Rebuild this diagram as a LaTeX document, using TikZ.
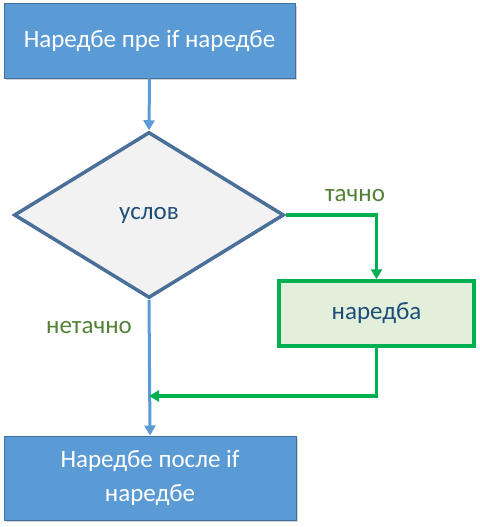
\documentclass[tikz,border=0pt]{standalone}
\usepackage{fontspec}
\setmainfont{Carlito}
\usetikzlibrary{shapes.geometric,arrows.meta,shadows}
\definecolor{bluefill}{HTML}{5B9BD5}
\definecolor{blueedge}{HTML}{41719C}
\definecolor{diafill}{HTML}{F2F2F2}
\definecolor{diaedge}{HTML}{4A6F99}
\definecolor{darktext}{HTML}{1F4E79}
\definecolor{greenline}{HTML}{00B050}
\definecolor{greenfill}{HTML}{E2EFDA}
\definecolor{labelgreen}{HTML}{538135}
\tikzset{
  bluebox/.style={draw=blueedge, fill=bluefill, line width=1pt, text=white,
    font=\fontsize{25}{34}\selectfont, align=center, inner sep=0pt,
    drop shadow={shadow xshift=2pt, shadow yshift=-2pt, opacity=0.35}},
  decision/.style={diamond, draw=diaedge, fill=diafill, line width=3.5pt, text=darktext,
    font=\fontsize{25}{30}\selectfont, inner sep=0pt, aspect=1.63},
  greenbox/.style={draw=greenline, fill=greenfill, line width=3.5pt, text=darktext,
    font=\fontsize{25}{30}\selectfont, inner sep=0pt},
  bluearrow/.style={draw=bluefill, line width=3pt, -{Triangle[length=10pt,width=11pt]}},
  greenarrow/.style={draw=greenline, line width=3.5pt, -{Triangle[length=10pt,width=11pt]}},
  lbl/.style={text=labelgreen, font=\fontsize{25}{30}\selectfont},
}
\begin{document}
\begin{tikzpicture}[x=1pt,y=-1pt]
\useasboundingbox (0,0) rectangle (479,527);
\node[bluebox, minimum width=291pt, minimum height=74pt] (start) at (149.5,41) {Наредбе пре if наредбе};
\node[decision, minimum width=270pt, minimum height=166pt] (cond) at (149,215) {услов};
\node[greenbox, minimum width=195pt, minimum height=65pt] (stmt) at (376.5,313.5) {наредба};
\node[bluebox, minimum width=292pt, minimum height=84pt] (end) at (150,478) {Наредбе после if\\наредбе};
\coordinate (join) at (149,396);
\draw[bluearrow] (start.south) -- (cond.north);
\draw[bluearrow] (cond.south) -- (end.north);
\draw[greenarrow] (cond.east) -| (stmt.north);
\draw[greenarrow] (stmt.south) |- (join);
\node[lbl] (yes) at (355,196) {тачно};
\node[lbl] (no) at (89,328) {нетачно};
\end{tikzpicture}
\end{document}
